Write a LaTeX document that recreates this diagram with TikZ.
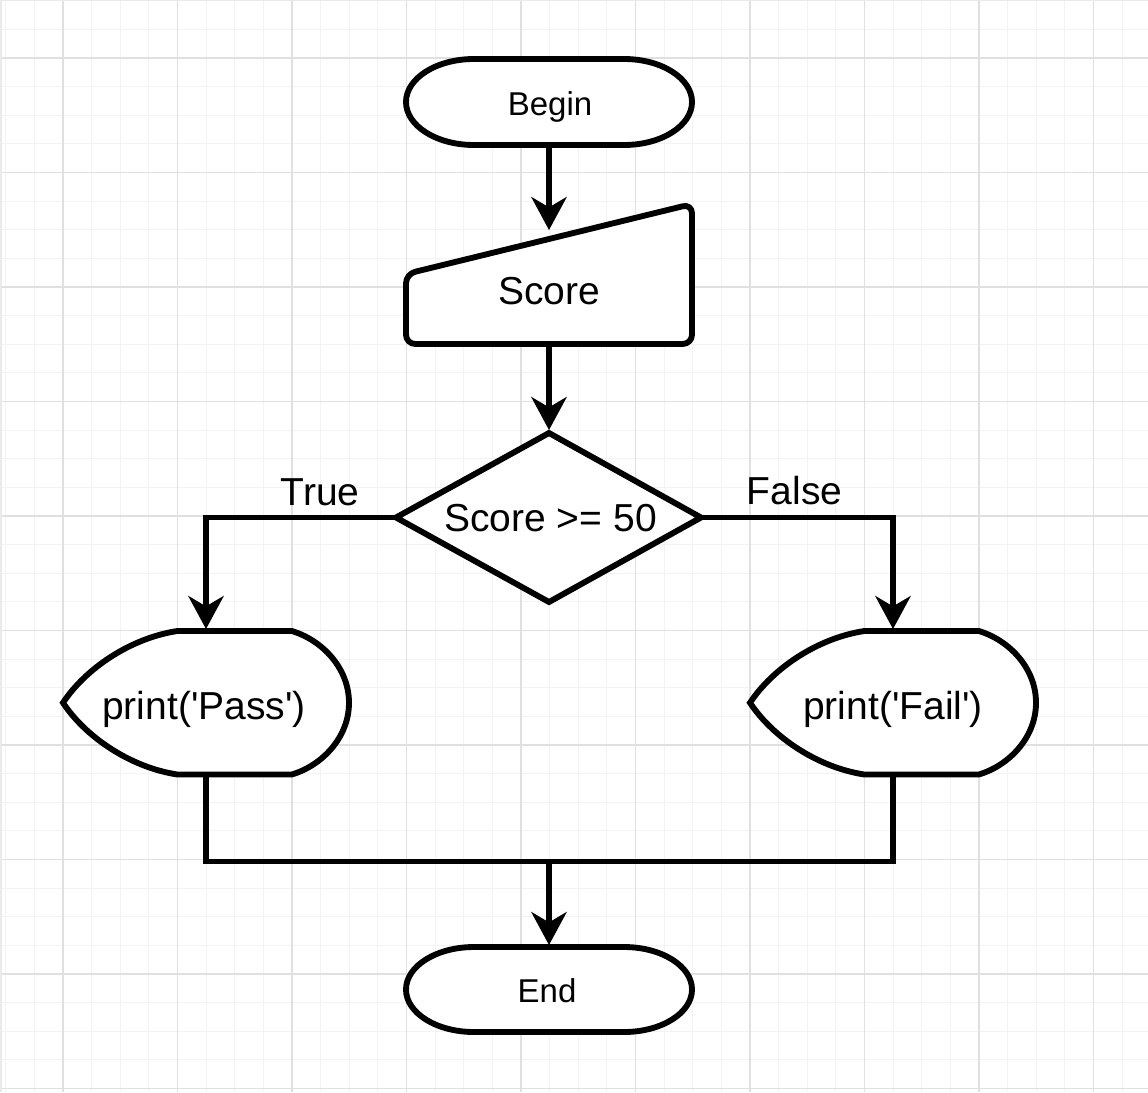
\documentclass[tikz,border=0pt]{standalone}
\usepackage{fontspec}
\setmainfont{Liberation Sans}
\usetikzlibrary{arrows.meta}
\definecolor{gridmajor}{HTML}{E0E0E0}
\definecolor{gridminor}{HTML}{F3F3F3}
\definecolor{edgestrip}{HTML}{E8EAEE}
\begin{document}
\begin{tikzpicture}[x=0.75pt,y=-0.75pt,
  shapeline/.style={draw=black, line width=4.4pt, fill=white, line join=round},
  conn/.style={draw=black, line width=4.4pt, line join=miter},
  arr/.style={conn, -{Stealth[length=25pt,width=27pt,inset=8pt,line width=0pt]}},
  bigtxt/.style={font=\fontsize{29.25}{34}\selectfont, anchor=base, inner sep=0pt},
  smalltxt/.style={font=\fontsize{24.75}{30}\selectfont, anchor=base, inner sep=0pt}]
\useasboundingbox (0,0) rectangle (1148,1092);
\fill[white] (0,0) rectangle (1148,1092);
% grid
\foreach \k in {0,...,39} {
  \pgfmathsetmacro\gx{5.75+\k*28.625}
  \draw[gridminor, line width=0.9pt] (\gx,0) -- (\gx,1092);
  \pgfmathsetmacro\gy{0.75+\k*28.625}
  \draw[gridminor, line width=0.9pt] (0,\gy) -- (1148,\gy);
}
\foreach \k in {0,...,9} {
  \pgfmathsetmacro\gx{63+\k*114.5}
  \draw[gridmajor, line width=0.9pt] (\gx,0) -- (\gx,1092);
  \pgfmathsetmacro\gy{58+\k*114.5}
  \draw[gridmajor, line width=0.9pt] (0,\gy) -- (1148,\gy);
}
\fill[edgestrip] (0,0) rectangle (2,1092);
\fill[edgestrip] (0,0) rectangle (1148,1.2);

% shapes
\draw[shapeline] (474,59) -- (624,59) arc[start angle=-90,end angle=90,x radius=68,y radius=43] -- (474,145) arc[start angle=90,end angle=270,x radius=68,y radius=43] -- cycle;
\draw[shapeline, rounded corners=7pt] (406,274) -- (692,204) -- (692,344) -- (406,344) -- cycle;
\draw[shapeline, line join=miter] (549,433) -- (701,517.5) -- (549,602) -- (396,517.5) -- cycle;
\foreach \dx in {0,687} {
  \draw[shapeline, line join=miter, shift={(\dx,0)}] (63,702.75) .. controls (86,668) and (131,638) .. (177.4,631) -- (291.8,631) .. controls (322,640) and (349,668) .. (349,702.75) .. controls (349,737.5) and (322,765.5) .. (291.8,774.5) -- (177.4,774.5) .. controls (131,767.5) and (86,737.5) .. (63,702.75) -- cycle;
}
\draw[shapeline] (474,947) -- (624,947) arc[start angle=-90,end angle=90,x radius=68,y radius=42.5] -- (474,1032) arc[start angle=90,end angle=270,x radius=68,y radius=42.5] -- cycle;

% text
\node[smalltxt] (begin) at (550,115) {Begin};
\node[bigtxt] (score) at (549,304) {Score};
\node[bigtxt] (dec) at (550.5,531.5) {Score >= 50};
\node[bigtxt] (truelbl) at (320,505) {True};
\node[bigtxt] (falselbl) at (794.5,504) {False};
\node[bigtxt] (pass) at (204,719) {print(\textquotesingle Pass\textquotesingle)};
\node[bigtxt] (fail) at (893,719) {print(\textquotesingle Fail\textquotesingle)};
\node[smalltxt] (end) at (547,1002) {End};

% connection points
\coordinate (begin-s) at (549,145);
\coordinate (score-n) at (549,230);
\coordinate (score-s) at (549,344);
\coordinate (dec-n) at (549,430);
\coordinate (dec-w) at (396,517.5);
\coordinate (dec-e) at (701,517.5);
\coordinate (pass-n) at (206,629);
\coordinate (fail-n) at (893,629);
\coordinate (pass-s) at (206,774.5);
\coordinate (fail-s) at (893,774.5);
\coordinate (join) at (549,861.5);
\coordinate (end-n) at (549,945);

% connectors
\draw[arr] (begin-s) -- (score-n);
\draw[arr] (score-s) -- (dec-n);
\draw[arr] (dec-w) -| (pass-n);
\draw[arr] (dec-e) -| (fail-n);
\draw[conn] (pass-s) |- (join);
\draw[conn] (fail-s) |- (join);
\draw[arr] (join) -- (end-n);
\end{tikzpicture}
\end{document}
